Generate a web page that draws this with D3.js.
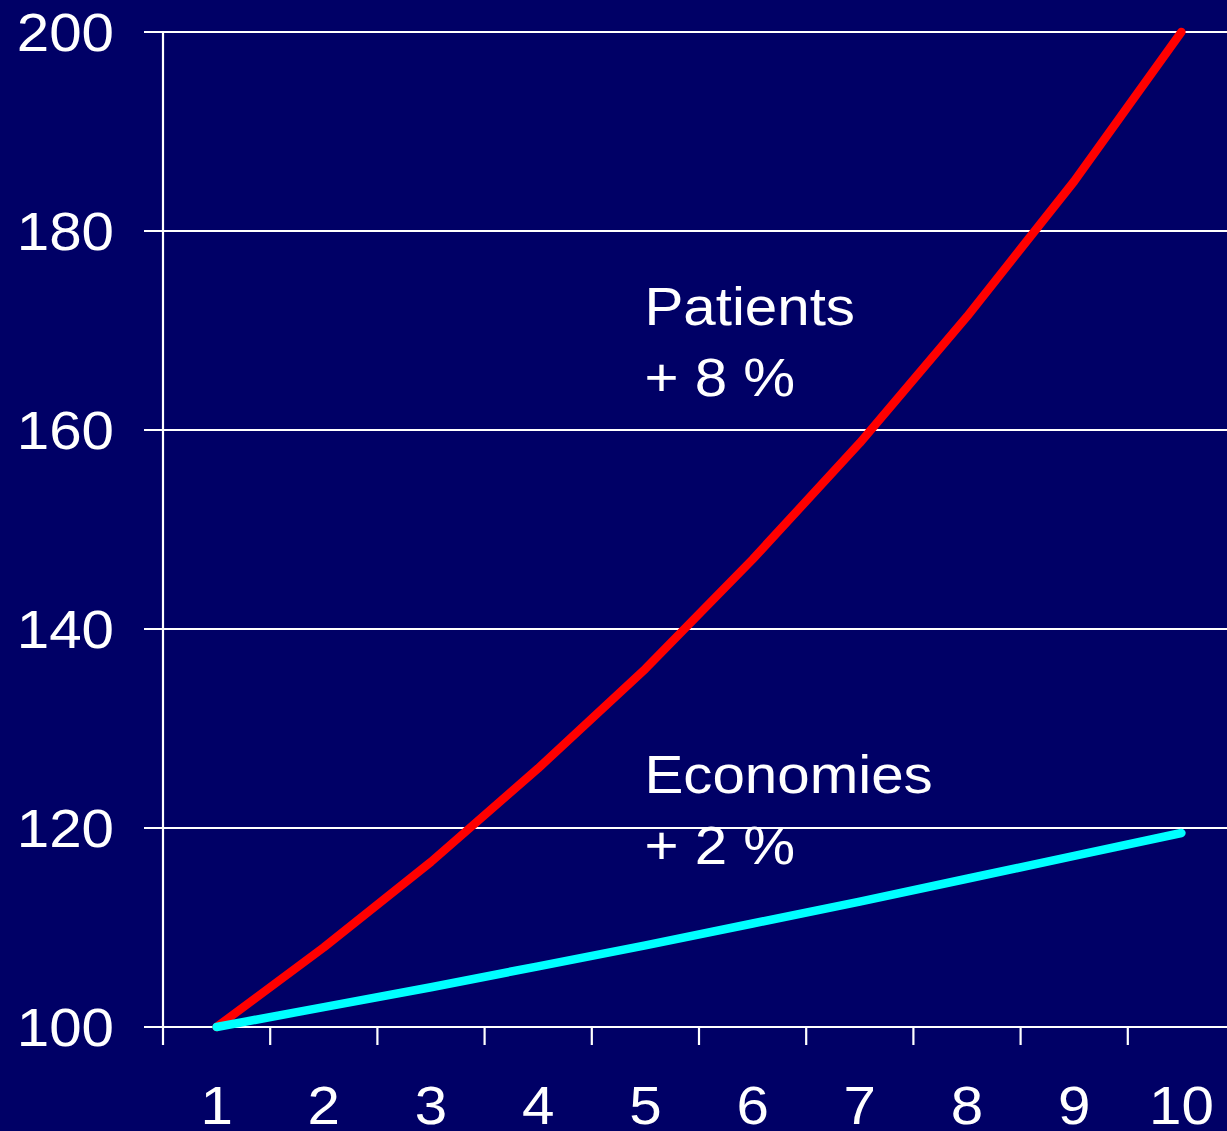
<!DOCTYPE html>
<html>
<head>
<meta charset="utf-8">
<script src="https://cdn.jsdelivr.net/npm/d3@7"></script>
<style>
  html, body { margin: 0; padding: 0; background: #000066; overflow: hidden; }
  svg { display: block; }
  text { font-family: "Liberation Sans", Arial, sans-serif; fill: #ffffff; }
</style>
</head>
<body>
<script>
// Years on the x axis
const years = [1, 2, 3, 4, 5, 6, 7, 8, 9, 10];
// Index values (year 1 = 100)
const patients = [100, 108, 116.6, 126, 136, 147, 158.7, 171.4, 185, 200];
const economies = [100, 102, 104, 106.1, 108.2, 110.4, 112.6, 114.9, 117.2, 119.5];
// Y axis ticks
const yTicks = [100, 120, 140, 160, 180, 200];
// Series annotations
const labels = [
  { lines: ["Patients", "+ 8 %"], x: 5, y: 170.6 },
  { lines: ["Economies", "+ 2 %"], x: 5, y: 123.5 }
];

const W = 1227, H = 1131;
const svg = d3.select("body").append("svg").attr("width", W).attr("height", H);
svg.append("rect").attr("width", W).attr("height", H).attr("fill", "#000066");

const x = d3.scaleLinear().domain([0.5, 10.5]).range([163, 1235]);
const y = d3.scaleLinear().domain([100, 200]).range([1027, 32]);

const fontSize = 53, stretch = 1.1;

// Annotations (gridlines are painted on top of these)
labels.forEach(l => {
  l.lines.forEach((t, i) => {
    svg.append("text")
      .attr("transform", `translate(${x(l.x) - 1},${y(l.y) + i * 71}) scale(${stretch},1)`)
      .attr("font-size", fontSize)
      .text(t);
  });
});

// Horizontal gridlines with outward ticks
svg.append("g").selectAll("line").data(yTicks).join("line")
  .attr("x1", 144).attr("x2", W)
  .attr("y1", d => y(d)).attr("y2", d => y(d))
  .attr("stroke", "#ffffff").attr("stroke-width", 2.2);

// Y axis line
svg.append("line")
  .attr("x1", x(0.5)).attr("x2", x(0.5))
  .attr("y1", y(200)).attr("y2", y(100) + 18)
  .attr("stroke", "#ffffff").attr("stroke-width", 2.2);

// X ticks at category boundaries
svg.append("g").selectAll("line").data(years.slice(0, 9).map(d => d + 0.5)).join("line")
  .attr("x1", d => x(d)).attr("x2", d => x(d))
  .attr("y1", y(100)).attr("y2", y(100) + 18)
  .attr("stroke", "#ffffff").attr("stroke-width", 2.2);

// Y tick labels
svg.append("g").selectAll("text").data(yTicks).join("text")
  .attr("transform", d => `translate(114,${y(d) + 19}) scale(${stretch},1)`)
  .attr("text-anchor", "end")
  .attr("font-size", fontSize)
  .text(d => d);

// X tick labels
svg.append("g").selectAll("text").data(years).join("text")
  .attr("transform", d => `translate(${x(d)},1124) scale(${stretch},1)`)
  .attr("text-anchor", "middle")
  .attr("font-size", fontSize)
  .text(d => d);

// Series lines
const line = d3.line().x((d, i) => x(years[i])).y(d => y(d));
svg.append("path").datum(patients).attr("d", line)
  .attr("fill", "none").attr("stroke", "#ff0000").attr("stroke-width", 8.5)
  .attr("stroke-linecap", "round").attr("stroke-linejoin", "round");
svg.append("path").datum(economies).attr("d", line)
  .attr("fill", "none").attr("stroke", "#00ffff").attr("stroke-width", 8.5)
  .attr("stroke-linecap", "round").attr("stroke-linejoin", "round");
</script>
</body>
</html>
